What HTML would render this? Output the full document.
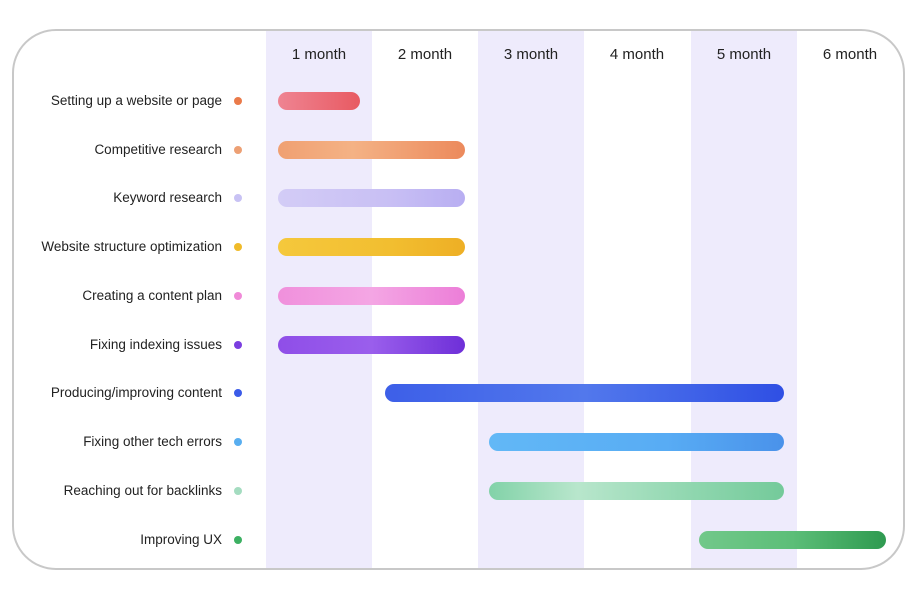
<!DOCTYPE html>
<html><head><style>
body{margin:0;width:919px;height:592px;background:#fff;position:relative;overflow:hidden;font-family:"Liberation Sans",sans-serif;}
.frame{position:absolute;left:12px;top:29px;width:889px;height:537px;border:2px solid #c8c8c8;border-radius:44px;overflow:hidden;}
.col{position:absolute;top:0;bottom:0;width:106px;background:#eeebfc;}
.hd{position:absolute;top:46px;width:106px;text-align:center;font-size:15px;color:#222;}
.lb{position:absolute;right:697px;font-size:13.5px;color:#222;white-space:nowrap;}
.dot{position:absolute;left:234px;width:8px;height:8px;border-radius:50%;}
.bar{position:absolute;height:18px;border-radius:9px;}
</style></head><body>
<div class="frame">
<div class="col" style="left:252px"></div>
<div class="col" style="left:464px"></div>
<div class="col" style="left:677px"></div>
</div>
<div class="hd" style="left:266px">1 month</div>
<div class="hd" style="left:372px">2 month</div>
<div class="hd" style="left:478px">3 month</div>
<div class="hd" style="left:584px">4 month</div>
<div class="hd" style="left:691px">5 month</div>
<div class="hd" style="left:797px">6 month</div>

<div class="lb" style="top:93px">Setting up a website or page</div><div class="dot" style="top:97px;background:#ea7a4a"></div>
<div class="bar" style="left:278px;width:82px;top:92px;background:linear-gradient(90deg,#ef8492,#e85a62)"></div>

<div class="lb" style="top:142px">Competitive research</div><div class="dot" style="top:146px;background:#eda074"></div>
<div class="bar" style="left:278px;width:187px;top:141px;background:linear-gradient(90deg,#f0a072,#f4b285 40%,#ec8a5c)"></div>

<div class="lb" style="top:190px">Keyword research</div><div class="dot" style="top:194px;background:#c8c2f4"></div>
<div class="bar" style="left:278px;width:187px;top:189px;background:linear-gradient(90deg,#d3ccf6,#c8bff4 60%,#b8aef2)"></div>

<div class="lb" style="top:239px">Website structure optimization</div><div class="dot" style="top:243px;background:#f0bb2a"></div>
<div class="bar" style="left:278px;width:187px;top:238px;background:linear-gradient(90deg,#f5c83c,#f2be30 60%,#eeaf25)"></div>

<div class="lb" style="top:288px">Creating a content plan</div><div class="dot" style="top:292px;background:#f08ad8"></div>
<div class="bar" style="left:278px;width:187px;top:287px;background:linear-gradient(90deg,#f090dc,#f4a6e4 50%,#ec7ed8)"></div>

<div class="lb" style="top:337px">Fixing indexing issues</div><div class="dot" style="top:341px;background:#7b3ee0"></div>
<div class="bar" style="left:278px;width:187px;top:336px;background:linear-gradient(90deg,#8f4ee8,#9a5eec 50%,#6e2fd8)"></div>

<div class="lb" style="top:385px">Producing/improving content</div><div class="dot" style="top:389px;background:#3b5be8"></div>
<div class="bar" style="left:385px;width:399px;top:384px;background:linear-gradient(90deg,#3d5fe8,#5278ec 50%,#2f4fe4)"></div>

<div class="lb" style="top:434px">Fixing other tech errors</div><div class="dot" style="top:438px;background:#58aef0"></div>
<div class="bar" style="left:489px;width:295px;top:433px;background:linear-gradient(90deg,#62b8f6,#58acf4 60%,#4a92ea)"></div>

<div class="lb" style="top:483px">Reaching out for backlinks</div><div class="dot" style="top:487px;background:#a4dcc0"></div>
<div class="bar" style="left:489px;width:295px;top:482px;background:linear-gradient(90deg,#82d2a8,#b8e6cc 30%,#8ed6ae 70%,#74ca9a)"></div>

<div class="lb" style="top:532px">Improving UX</div><div class="dot" style="top:536px;background:#3cb062"></div>
<div class="bar" style="left:699px;width:187px;top:531px;background:linear-gradient(90deg,#72c88a,#5cbe78 50%,#2f9a50)"></div>
</body></html>
